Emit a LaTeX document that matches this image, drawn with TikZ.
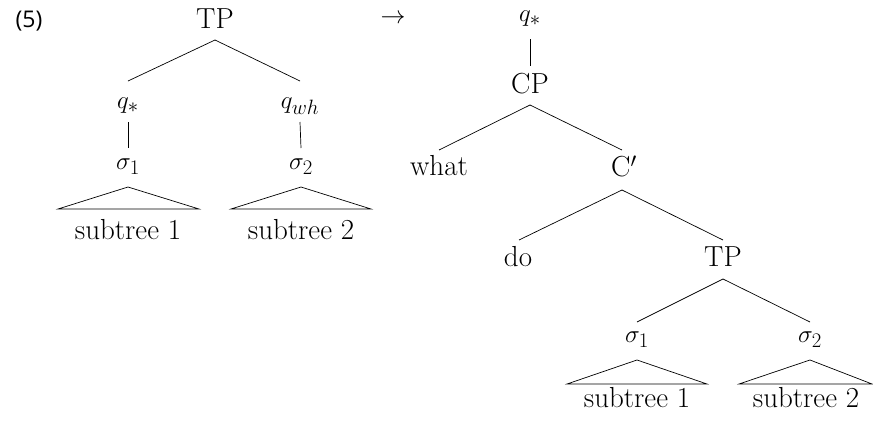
\documentclass[tikz,border=0pt]{standalone}
\usepackage{fontspec}
\newfontfamily\labelfont{Open Sans}
\begin{document}
\begin{tikzpicture}[x=1pt,y=-1pt,
  lab/.style={inner sep=0pt,font=\fontsize{29}{34}\selectfont},
  edge/.style={line width=0.7pt}]
\useasboundingbox (0,0) rectangle (873,421);
% left tree
\node[inner sep=0pt,font=\labelfont\fontsize{23}{27}\selectfont] (num) at (29,21) {(5)};
\node[lab] (tpA) at (215,19) {TP};
\node[lab] (qa) at (128,106) {$q_{*}$};
\node[lab] (qb) at (300,106) {$q_{wh}$};
\node[lab] (sa) at (128,167) {$\sigma_1$};
\node[lab] (sb) at (301,167) {$\sigma_2$};
\node[lab] (ta) at (128,230) {subtree 1};
\node[lab] (tb) at (301,230) {subtree 2};
\draw[edge] ([yshift=-21]tpA.center) -- ([yshift=25]qa.center);
\draw[edge] ([yshift=-21]tpA.center) -- ([yshift=25]qb.center);
\draw[edge] ([yshift=-16]qa.center) -- ([yshift=19]sa.center);
\draw[edge] ([yshift=-16]qb.center) -- ([yshift=19]sb.center);
\draw[edge] ([yshift=-20]sa.center) -- ([xshift=-70,yshift=-42]sa.center) -- ([xshift=71,yshift=-42]sa.center) -- cycle;
\draw[edge] ([yshift=-20]sb.center) -- ([xshift=-70,yshift=-42]sb.center) -- ([xshift=70,yshift=-42]sb.center) -- cycle;
% arrow
\node[lab] (arr) at (393,19) {$\rightarrow$};
% right tree
\node[lab] (qs) at (530,19) {$q_{*}$};
\node[lab] (cp) at (530,84) {CP};
\node[lab] (what) at (439,166) {what};
\node[lab] (cbar) at (624,166) {C$'$};
\node[lab] (do) at (518,257) {do};
\node[lab] (tpB) at (723,257) {TP};
\node[lab] (sc) at (637,340) {$\sigma_1$};
\node[lab] (sd) at (810,340) {$\sigma_2$};
\node[lab] (tc) at (637,398) {subtree 1};
\node[lab] (td) at (806,398) {subtree 2};
\draw[edge] ([yshift=-20]qs.center) -- ([yshift=18]cp.center);
\draw[edge] ([yshift=-21]cp.center) -- ([yshift=16]what.center);
\draw[edge] ([yshift=-21]cp.center) -- ([xshift=-2,yshift=16]cbar.center);
\draw[edge] ([xshift=-2,yshift=-24]cbar.center) -- ([xshift=1,yshift=17]do.center);
\draw[edge] ([xshift=-2,yshift=-24]cbar.center) -- ([yshift=17]tpB.center);
\draw[edge] ([yshift=-22]tpB.center) -- ([yshift=18]sc.center);
\draw[edge] ([yshift=-22]tpB.center) -- ([yshift=18]sd.center);
\draw[edge] ([yshift=-20]sc.center) -- ([xshift=-70,yshift=-44]sc.center) -- ([xshift=70,yshift=-44]sc.center) -- cycle;
\draw[edge] ([yshift=-20]sd.center) -- ([xshift=-71,yshift=-44]sd.center) -- ([xshift=62,yshift=-44]sd.center) -- cycle;
\end{tikzpicture}
\end{document}
